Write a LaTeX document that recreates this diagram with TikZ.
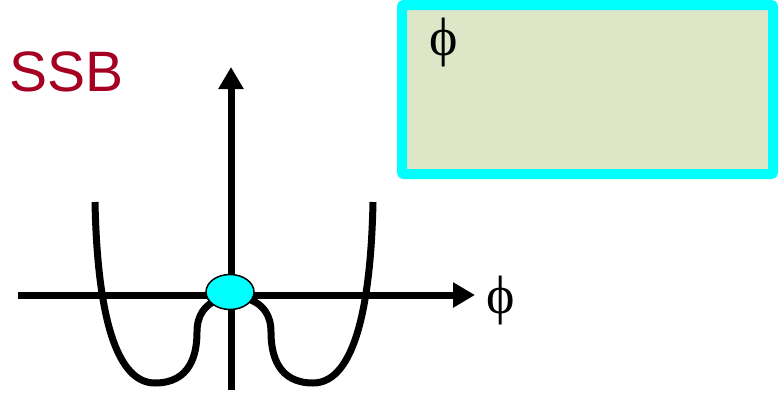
\documentclass[tikz,border=0pt]{standalone}
\usepackage{fontspec}
\setmainfont{Liberation Sans}
\newfontfamily\phifont{Liberation Serif}
\usetikzlibrary{arrows.meta, positioning, shapes.geometric}
\definecolor{cred}{HTML}{A50021}
\definecolor{ccyan}{HTML}{00FFFF}
\definecolor{colive}{HTML}{DEE6C8}
\tikzset{
  every picture/.style={x=1pt, y=-1pt},
  axis/.style={-{Triangle[length=22pt, width=24pt]}, line width=7pt},
  curve/.style={line width=7pt},
  phi/.style={inner sep=0pt, font=\phifont\fontsize{54}{60}\selectfont},
  infobox/.style={draw=ccyan, fill=colive, line width=10pt, rounded corners=2pt, minimum width=371pt, minimum height=169pt},
}
\begin{document}
\begin{tikzpicture}
  \useasboundingbox (0,0) rectangle (779,397);
  \node[text=cred, inner sep=0pt, anchor=base west, font=\fontsize{57}{68}\selectfont] (ssb) at (9,91) {SSB};
  \node[infobox] (box) at (587.5,89.5) {};
  \node[phi] (phibox) at (444,43) {ϕ};
  % double well
  \draw[curve] (95,202) .. controls (97,300) and (112,383) .. (155,383) .. controls (190,383) and (197,355) .. (197,332) .. controls (197,315) and (205,305) .. (217,300);
  \draw[curve] (373,202) .. controls (371,300) and (356,383) .. (313,383) .. controls (278,383) and (271,355) .. (271,332) .. controls (271,315) and (263,305) .. (251,300);
  \coordinate (xl) at (18,295);
  \coordinate (xr) at (475,295);
  \coordinate (yb) at (231,390);
  \coordinate (yt) at (231,67);
  \draw[axis] (xl) -- (xr);
  \draw[axis] (yb) -- (yt);
  \node[phi] (phiaxis) at (501,301) {ϕ};
  \node[ellipse, draw, line width=1.5pt, fill=ccyan, minimum width=48pt, minimum height=35pt, inner sep=0pt] (vac) at (230,292) {};
\end{tikzpicture}
\end{document}
